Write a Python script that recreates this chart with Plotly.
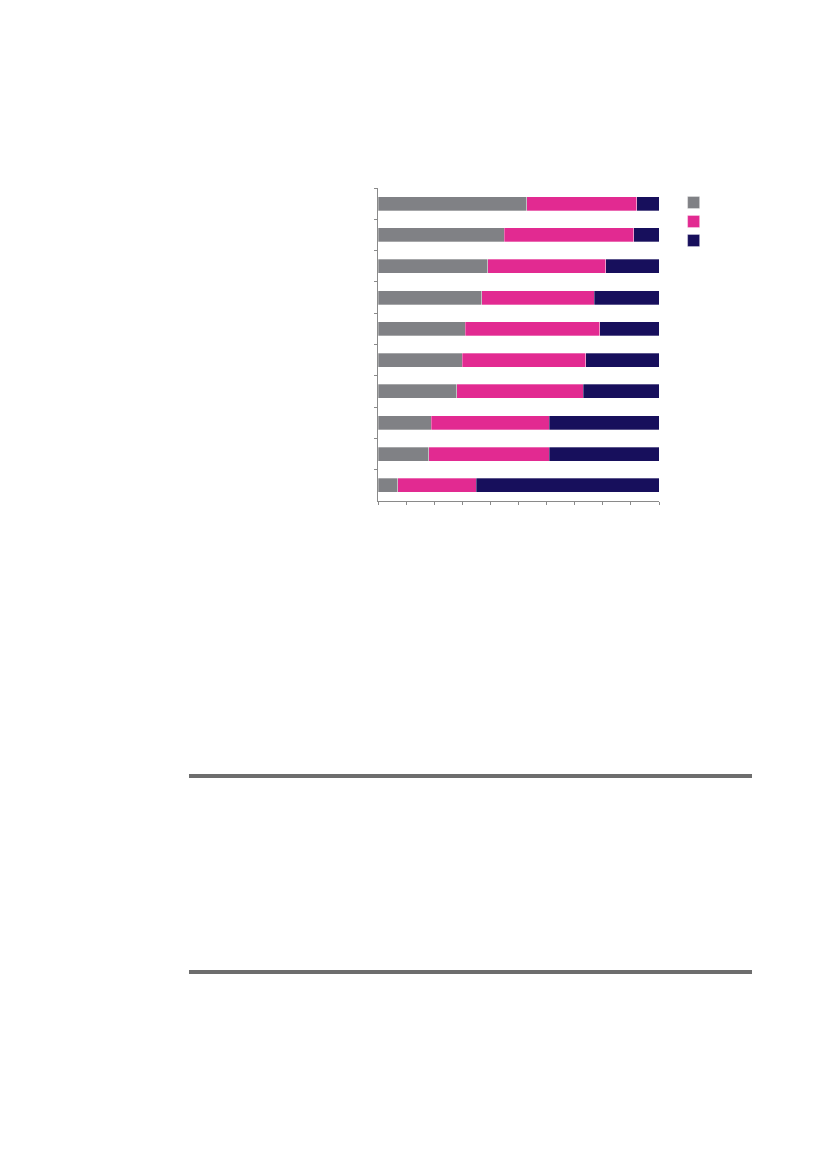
import plotly.graph_objects as go

# share of each group per row, in percent (top row first)
rows = ['1', '2', '3', '4', '5', '6', '7', '8', '9', '10']
grey_part = [53, 45, 39, 37, 31, 30, 28, 19, 18, 7]
pink_part = [39, 46, 42, 40, 48, 44, 45, 42, 43, 28]
navy_part = [8, 9, 19, 23, 21, 26, 27, 39, 39, 65]

series = [(' ', grey_part, '#808185'),
          ('  ', pink_part, '#e22a91'),
          ('   ', navy_part, '#170f5c')]

fig = go.Figure()
for name, vals, col in series:
    fig.add_trace(go.Bar(y=rows, x=vals, name=name, orientation='h',
                         width=0.45,
                         marker=dict(color=col,
                                     line=dict(color='rgba(255,255,255,0.5)', width=0.6))))

fig.update_layout(
    barmode='stack',
    width=827, height=1169,
    margin=dict(l=370, r=176, t=180, b=676),
    plot_bgcolor='white', paper_bgcolor='white',
    font=dict(family='Liberation Sans', size=12, color='#444'),
    showlegend=True,
    legend=dict(x=1.052, y=1.0, xanchor='left', yanchor='top',
                traceorder='normal', font=dict(size=12),
                itemwidth=30, bgcolor='rgba(0,0,0,0)'),
)
fig.update_xaxes(range=[0, 100], dtick=10, showgrid=False, zeroline=False,
                 showline=True, linecolor='#8a8a8a', linewidth=1,
                 ticks='outside', ticklen=3, tickcolor='#8a8a8a',
                 showticklabels=False)
fig.update_yaxes(autorange='reversed', showgrid=False, zeroline=False,
                 showline=True, linecolor='#8a8a8a', linewidth=1,
                 ticks='outside', ticklen=3, tickcolor='#8a8a8a',
                 tickson='boundaries', showticklabels=False)

# the two heavy rules under the chart
for yy in [-0.8786, -1.5048]:
    fig.add_shape(type='line', xref='paper', yref='paper',
                  x0=-0.6726, x1=1.331, y0=yy, y1=yy,
                  line=dict(color='#6d6d6d', width=4))

fig.write_html('out.html')
